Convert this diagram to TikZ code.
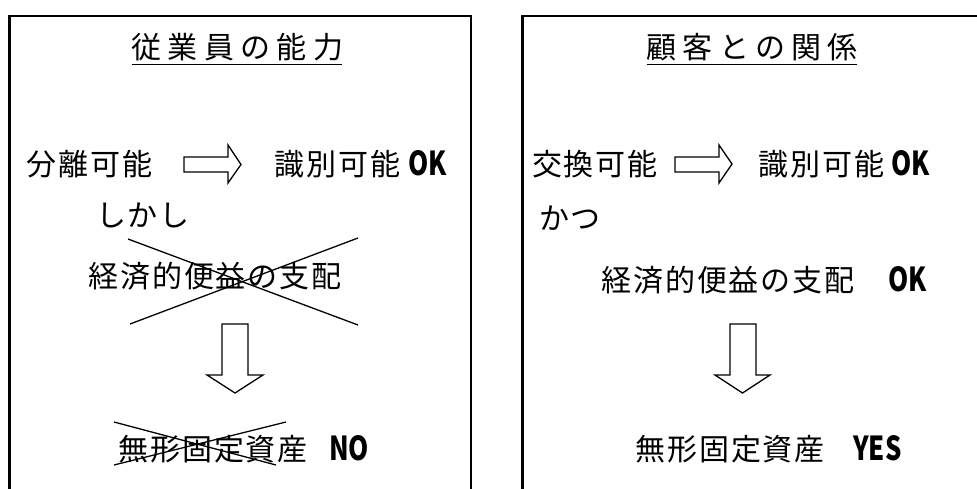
\documentclass[tikz,border=0pt]{standalone}
\usepackage{fontspec}
\newfontfamily\jpbody[LetterSpace=6]{Noto Sans CJK JP}
\newfontfamily\jptitle[LetterSpace=21]{Noto Sans CJK JP}
\newfontfamily\jplatin{Noto Sans CJK JP}
\tikzset{
  txt/.style={inner sep=0pt, anchor=west, text height=25.8pt, text depth=3pt,
    font=\fontsize{30}{36}\selectfont\jpbody},
  ttl/.style={txt, font=\fontsize{30}{36}\selectfont\jptitle},
  res/.style={inner sep=0pt, anchor=west, text height=25.8pt, text depth=3pt,
    font=\fontsize{33}{40}\selectfont\jplatin\bfseries},
  frame/.style={line width=2.2pt},
  blk/.style={line width=1.3pt, line join=miter},
  xline/.style={line width=1.3pt}
}
\begin{document}
\begin{tikzpicture}[x=1pt,y=-1pt]
\clip (0,0) rectangle (977,488);
\fill[white] (0,0) rectangle (977,488);
% frames
\draw[frame] (9.5,495) -- (9.5,16) -- (471,16) -- (471,495);
\draw[frame] (522.5,495) -- (522.5,16) -- (990,16);

% ---------- left panel ----------
\node[ttl] (lt) at (131.5,47) {従業員の能力};
\draw[line width=1.6pt] (132,64.5) -- (342,64.5);
\node[txt] (la) at (26.5,164.5) {分離可能};
\draw[blk] (184,157) -- (228,157) -- (228,145) -- (241,164.5) -- (228,183) -- (228,172) -- (184,172) -- cycle;
\node[txt] (lb) at (274.5,164.5) {識別可能};
\node[res] (lok) at (408,164.5) {\scalebox{0.78}[1]{OK}};
\node[txt] (lc) at (96,215) {しかし};
\node[txt] (ld) at (88.5,276) {経済的便益の支配};
\draw[xline] (128,239) -- (358,325);
\draw[xline] (130,324) -- (358,238);
\draw[blk] (222,324) -- (248,324) -- (248,375) -- (263,375) -- (235,393) -- (207,375) -- (222,375) -- cycle;
\node[txt] (le) at (118.5,449.5) {無形固定資産};
\node[res] (lno) at (329,449.5) {\scalebox{0.78}[1]{NO}};
\draw[xline] (114,422) -- (276,465);
\draw[xline] (114,465) -- (286,422);

% ---------- right panel ----------
\node[ttl] (rt) at (646.5,47) {顧客との関係};
\draw[line width=1.6pt] (647,64.5) -- (857,64.5);
\node[txt] (ra) at (532,164) {交換可能};
\draw[blk] (675,157) -- (719,157) -- (719,145) -- (732,164) -- (719,183) -- (719,172) -- (675,172) -- cycle;
\node[txt] (rb) at (758.5,164) {識別可能};
\node[res] (rok) at (891,164) {\scalebox{0.78}[1]{OK}};
\node[txt] (rc) at (539,218) {かつ};
\node[txt] (rd) at (601.5,280) {経済的便益の支配};
\node[res] (rok2) at (888,280) {\scalebox{0.78}[1]{OK}};
\draw[blk] (730,324) -- (756,324) -- (756,375) -- (770,375) -- (742.5,393) -- (715,375) -- (730,375) -- cycle;
\node[txt] (re) at (635.5,449) {無形固定資産};
\node[res] (ryes) at (853,449) {\scalebox{0.78}[1]{YES}};
\end{tikzpicture}
\end{document}
